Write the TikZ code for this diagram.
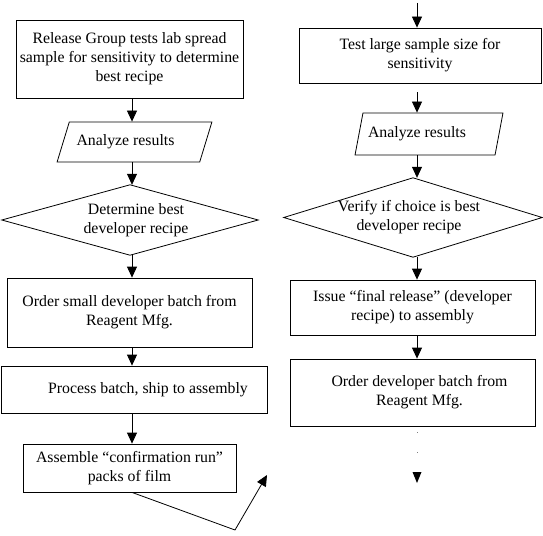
\documentclass[tikz,border=0pt]{standalone}
\usepackage{fontspec}
\setmainfont{Liberation Serif}
\usetikzlibrary{arrows.meta,shapes.geometric}
\begin{document}
\begin{tikzpicture}[x=1pt,y=-1pt, font=\fontsize{15.8}{19}\selectfont,
  box/.style={draw, line width=0.8pt, align=center, inner sep=0pt},
  para/.style={draw, trapezium, trapezium stretches=true, line width=0.8pt, align=center, inner sep=0pt},
  dia/.style={align=center, inner sep=0pt},
  dline/.style={line width=0.8pt},
  arr/.style={-{Triangle[length=11pt,width=10pt]}, line width=0.8pt}]
\useasboundingbox (0,0) rectangle (543,535);
% left column
\node[box, minimum width=227pt, minimum height=78pt] (l1) at (129.5,59) {Release Group tests lab spread\\sample for sensitivity to determine\\best recipe};
\node[para, trapezium left angle=53, trapezium right angle=127, minimum width=155pt, minimum height=40pt] (l2) at (134.5,142) {Analyze results\hspace*{18pt}};
\node[dia, minimum width=256pt, minimum height=70pt] (l3) at (130,220) {\hspace*{12pt}Determine best\\\hspace*{12pt}developer recipe};
\draw[dline] (l3.west) -- (l3.north) -- (l3.east) -- (l3.south) -- cycle;
\node[box, minimum width=245pt, minimum height=69pt] (l4) at (129.5,312.5) {Order small developer batch from\\Reagent Mfg.};
\node[box, minimum width=266pt, minimum height=47pt] (l5) at (134,389.5) {\hspace*{28pt}Process batch, ship to assembly};
\node[box, minimum width=213pt, minimum height=48pt] (l6) at (129.5,468) {Assemble “confirmation run”\\packs of film};
\coordinate (lx) at (132,0);
\coordinate (lv) at (235,530);
\coordinate (lt) at (267,475);
\draw[arr] (l1.south -| lx) -- (lx |- l2.north);
\draw[arr] (l2.south -| lx) -- (lx |- l3.north);
\draw[arr] (l3.south -| lx) -- (lx |- l4.north);
\draw[arr] (l4.south -| lx) -- (lx |- l5.north);
\draw[arr] (l5.south -| lx) -- (lx |- l6.north);
\draw[arr] (l6.south -| lx) -- (lv) -- (lt);
% right column
\node[box, minimum width=242pt, minimum height=55pt] (r1) at (420,55.5) {Test large sample size for\\sensitivity};
\node[para, trapezium left angle=63, trapezium right angle=117, minimum width=148pt, minimum height=42pt] (r2) at (429,134) {Analyze results\hspace*{24pt}};
\node[dia, minimum width=258pt, minimum height=79pt] (r3) at (413,217.5) {Verify if choice is best\hspace*{8pt}\\developer recipe\hspace*{8pt}};
\draw[dline] (r3.west) -- (r3.north) -- (r3.east) -- (r3.south) -- cycle;
\node[box, minimum width=245pt, minimum height=55pt] (r4) at (412.5,307.5) {Issue “final release” (developer\\recipe) to assembly};
\node[box, minimum width=245pt, minimum height=67pt] (r5) at (412.5,392.5) {\hspace*{14pt}Order developer batch from\\\hspace*{14pt}Reagent Mfg.};
\coordinate (rtop) at (417,3);
\coordinate (rend) at (417,472);
\draw[arr] (rtop) -- (rtop |- r1.north);
\draw[arr] ([yshift=-9pt]r1.south -| rtop) -- (rtop |- r2.north);
\draw[arr] (r2.south -| rtop) -- (rtop |- r3.north);
\draw[arr] (r3.south -| rtop) -- (rtop |- r4.north);
\draw[arr] (r4.south -| rtop) -- (rtop |- r5.north);
\draw[gray, line width=0.7pt, dash pattern=on 0.8pt off 19pt] ([yshift=-6pt]r5.south -| rtop) -- (rend);
\fill ([xshift=-4.5pt]rend) -- ([xshift=4.5pt]rend) -- ([yshift=-11pt]rend) -- cycle;
\end{tikzpicture}
\end{document}
